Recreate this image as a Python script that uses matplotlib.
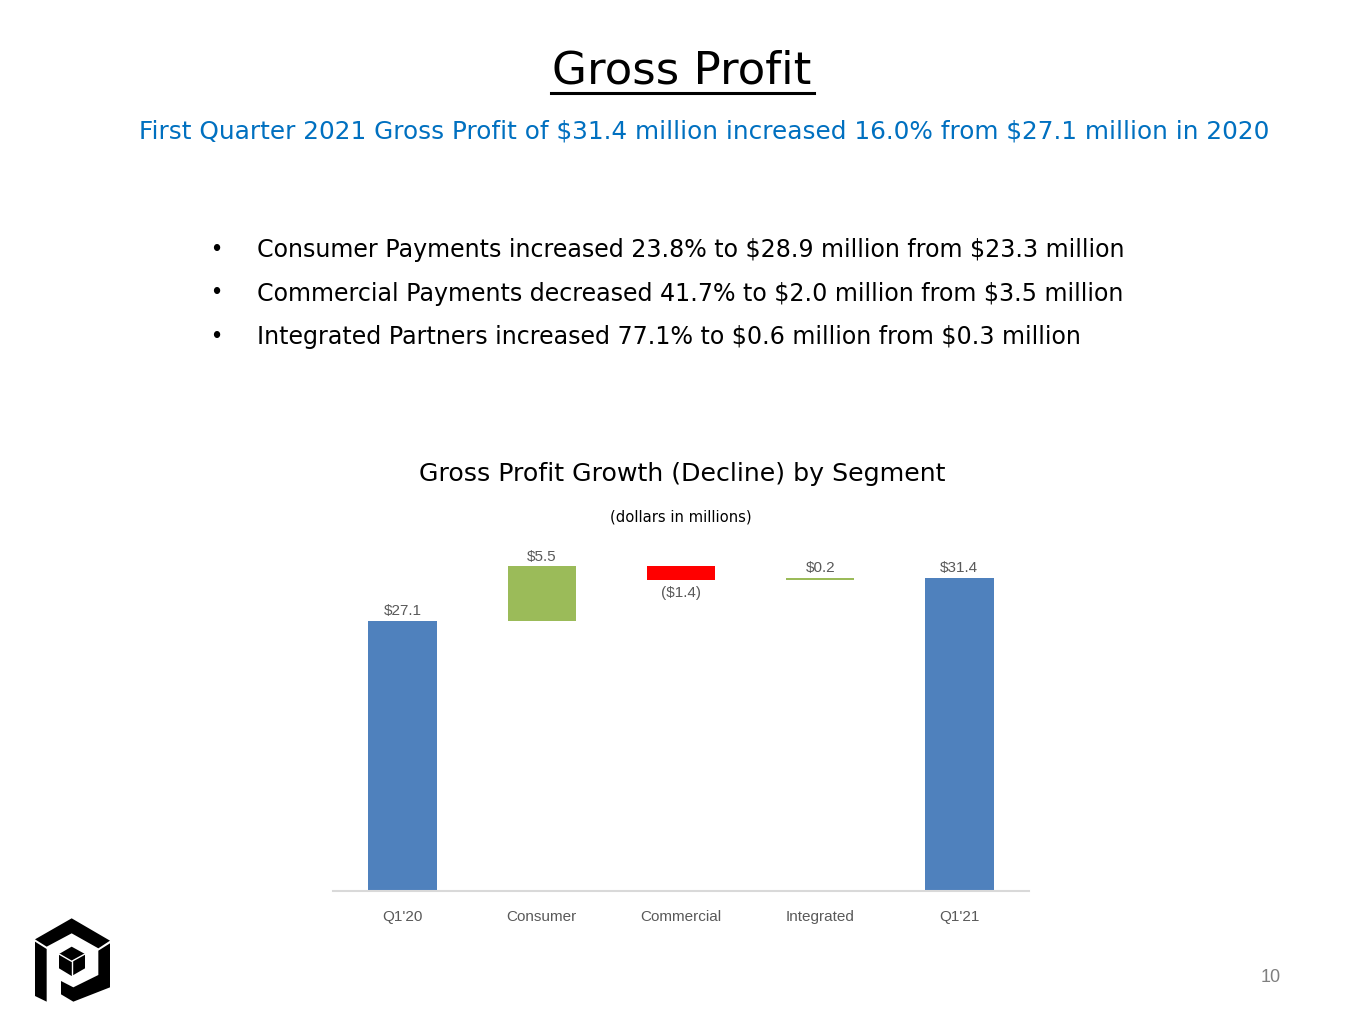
import matplotlib
matplotlib.use("Agg")
import matplotlib.pyplot as plt
from matplotlib.patches import Polygon
import numpy as np

plt.rcParams["text.parse_math"] = False

# ---- data ----
categories = ["Q1'20", "Consumer", "Commercial", "Integrated", "Q1'21"]
changes = [27.1, 5.5, -1.4, 0.2, 31.4]
kinds = ["total", "delta", "delta", "delta", "total"]
value_labels = ["$27.1", "$5.5", "($1.4)", "$0.2", "$31.4"]

title = "Gross Profit"
subtitle = "First Quarter 2021 Gross Profit of $31.4 million increased 16.0% from $27.1 million in 2020"
bullets = [
    "Consumer Payments increased 23.8% to $28.9 million from $23.3 million",
    "Commercial Payments decreased 41.7% to $2.0 million from $3.5 million",
    "Integrated Partners increased 77.1% to $0.6 million from $0.3 million",
]
chart_title = "Gross Profit Growth (Decline) by Segment"
chart_sub = "(dollars in millions)"
page_no = "10"

BLUE = "#4F81BD"
GREEN = "#9BBB59"
RED = "#FF0000"
LABEL = "#595959"

W, H = 1365, 1024
fig = plt.figure(figsize=(W / 100, H / 100), dpi=100)
fig.patch.set_facecolor("white")

def fx(px):
    return px / W

def fy(py):
    return 1 - py / H

slide = ["DejaVu Sans"]
sans = ["Liberation Sans", "DejaVu Sans"]

# Title with underline
fig.text(fx(682), fy(71), title, ha="center", va="center", fontsize=32.5,
         family=slide, color="black", parse_math=False)
fig.add_artist(plt.Line2D([fx(551), fx(814)], [fy(93), fy(93)], color="black", lw=2.2))

fig.text(fx(704), fy(131), subtitle, ha="center", va="center", fontsize=17.8,
         family=slide, color="#0070C0", parse_math=False)

for i, b in enumerate(bullets):
    y = 250 + i * 43.5
    fig.text(fx(212), fy(y), "\u2022", ha="left", va="center", fontsize=17, family=sans, color="black")
    fig.text(fx(257), fy(y), b, ha="left", va="center", fontsize=17.1, family=slide,
             color="black", parse_math=False)

fig.text(fx(682), fy(474), chart_title, ha="center", va="center", fontsize=18.2,
         family=slide, color="black")
fig.text(fx(681), fy(517), chart_sub, ha="center", va="center", fontsize=10.6,
         family=slide, color="black")

fig.text(fx(1271), fy(977), page_no, ha="center", va="center", fontsize=13,
         family=sans, color="#7F7F7F")

# ---- waterfall chart ----
ax = fig.add_axes([fx(333), 1 - 891 / H, fx(1029) - fx(333), (891 - 542.4) / H])
x = np.arange(len(categories))
running = 0.0
bottoms, heights, colors = [], [], []
for v, k in zip(changes, kinds):
    if k == "total":
        bottoms.append(0)
        heights.append(v)
        colors.append(BLUE)
        running = v
    else:
        if v >= 0:
            bottoms.append(running)
            heights.append(v)
            colors.append(GREEN)
        else:
            bottoms.append(running + v)
            heights.append(-v)
            colors.append(RED)
        running += v

ax.bar(x, heights, bottom=bottoms, width=0.49, color=colors, edgecolor="none", zorder=2)

for i, (b, h, v) in enumerate(zip(bottoms, heights, changes)):
    if kinds[i] == "delta" and v < 0:
        ax.annotate(value_labels[i], (x[i], b), xytext=(0, -4), textcoords="offset points",
                    ha="center", va="top", fontsize=11, color=LABEL, family=sans,
                    parse_math=False)
    else:
        ax.annotate(value_labels[i], (x[i], b + h), xytext=(0, 2), textcoords="offset points",
                    ha="center", va="bottom", fontsize=11, color=LABEL, family=sans,
                    parse_math=False)

ax.set_xlim(-0.5, 4.5)
ax.set_ylim(0, 35)
ax.set_yticks([])
ax.set_xticks(x)
ax.set_xticklabels(categories, fontsize=11, color=LABEL, family=sans)
ax.tick_params(axis="x", length=0, pad=14)
for s in ["top", "right", "left"]:
    ax.spines[s].set_visible(False)
ax.spines["bottom"].set_color("#D9D9D9")
ax.spines["bottom"].set_linewidth(1.5)
ax.patch.set_alpha(0)

# ---- logo ----
lax = fig.add_axes([fx(20), 1 - 1020 / H, fx(120), 120 / H])
lax.set_xlim(0, 360)
lax.set_ylim(360, 0)
lax.axis("off")
shapes = [
    [(45, 118), (155, 55), (270, 122), (235, 145), (155, 100), (80, 140)],
    [(45, 125), (80, 147), (80, 305), (45, 288)],
    [(235, 152), (270, 130), (270, 262), (160, 305), (123, 283), (123, 243), (160, 262), (235, 225)],
]
for s in shapes:
    lax.add_patch(Polygon(s, closed=True, facecolor="black", edgecolor="none"))
cube = [(155, 140), (195, 162), (195, 205), (155, 228), (117, 205), (117, 162)]
lax.add_patch(Polygon(cube, closed=True, facecolor="black", edgecolor="none"))
lax.plot([117, 155, 195], [162, 184, 162], color="white", lw=1.0)
lax.plot([155, 155], [184, 228], color="white", lw=1.0)

fig.savefig("out.png", dpi=100, facecolor="white")
